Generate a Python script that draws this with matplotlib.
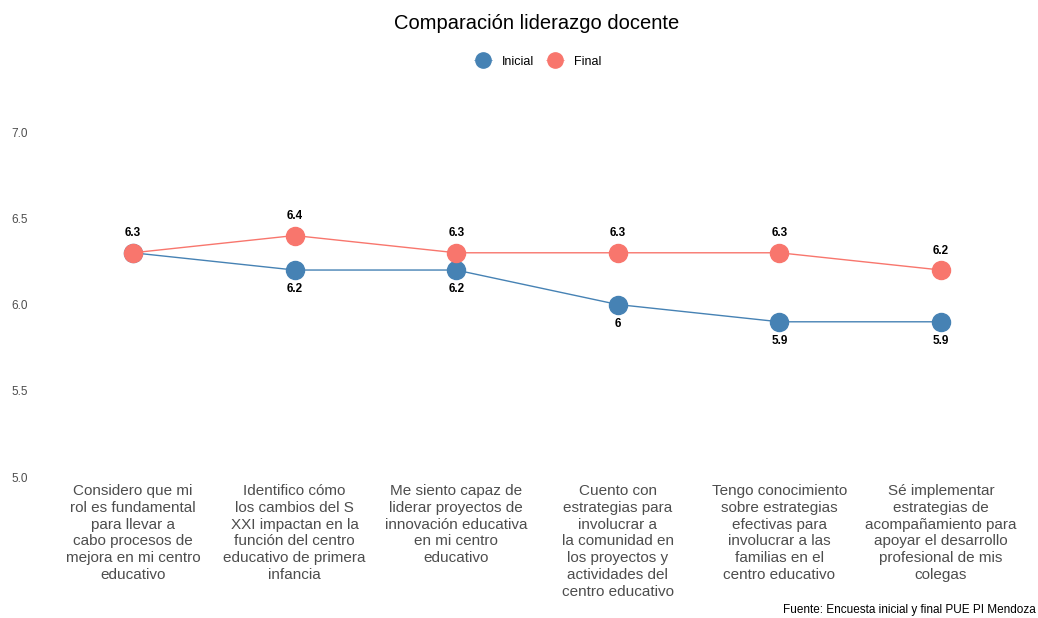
import matplotlib.pyplot as plt
from matplotlib.lines import Line2D

plt.rcParams['font.family'] = ['Liberation Sans', 'DejaVu Sans']

# ---- data ----
categorias = [
    'Considero que mi\nrol es fundamental\npara llevar a\ncabo procesos de\nmejora en mi centro\neducativo',
    'Identifico cómo\nlos cambios del S\nXXI impactan en la\nfunción del centro\neducativo de primera\ninfancia',
    'Me siento capaz de\nliderar proyectos de\ninnovación educativa\nen mi centro\neducativo',
    'Cuento con\nestrategias para\ninvolucrar a\nla comunidad en\nlos proyectos y\nactividades del\ncentro educativo',
    'Tengo conocimiento\nsobre estrategias\nefectivas para\ninvolucrar a las\nfamilias en el\ncentro educativo',
    'Sé implementar\nestrategias de\nacompañamiento para\napoyar el desarrollo\nprofesional de mis\ncolegas',
]
inicial = [6.3, 6.2, 6.2, 6.0, 5.9, 5.9]
final = [6.3, 6.4, 6.3, 6.3, 6.3, 6.2]
y_ticks = [5.0, 5.5, 6.0, 6.5, 7.0]

c_ini = '#4682B4'
c_fin = '#F8766D'

fig = plt.figure(figsize=(10.38, 6.18), dpi=100)
ax = fig.add_axes([36 / 1038, 1 - 480 / 618, 1 - 36 / 1038, (480 - 112) / 618])

x = list(range(len(categorias)))
ax.plot(x, inicial, '-o', color=c_ini, lw=1, ms=13, zorder=2)
ax.plot(x, final, '-o', color=c_fin, lw=1, ms=13, zorder=3)

def fmt(v):
    return f'{v:g}'

for i in x:
    ax.annotate(fmt(final[i]), (i, final[i]), xytext=(0, 14), textcoords='offset points',
                ha='center', va='center', fontsize=8.5, fontweight='bold', color='black')
    if inicial[i] < final[i]:
        ax.annotate(fmt(inicial[i]), (i, inicial[i]), xytext=(0, -14), textcoords='offset points',
                    ha='center', va='center', fontsize=8.5, fontweight='bold', color='black')

ax.set_xlim(-0.6, len(categorias) - 0.4)
ax.set_ylim(4.983, 7.116)
ax.set_yticks(y_ticks)
ax.set_yticklabels([f'{v:.1f}' for v in y_ticks])
ax.set_xticks(x)
ax.set_xticklabels(categorias, fontsize=11, color='#4D4D4D', linespacing=1.25)
ax.tick_params(axis='y', labelsize=8.5, labelcolor='#4D4D4D', length=0, pad=6)
ax.tick_params(axis='x', length=0, pad=3)
for s in ax.spines.values():
    s.set_visible(False)

fig.text(0.517, 0.962, 'Comparación liderazgo docente', ha='center', va='center', fontsize=14.5)

handles = [Line2D([0], [0], color=c_ini, lw=0.4, marker='o', ms=11, label='Inicial'),
           Line2D([0], [0], color=c_fin, lw=0.4, marker='o', ms=11, label='Final')]
fig.legend(handles=handles, loc='center', bbox_to_anchor=(0.518, 0.9), ncol=2, frameon=False,
           fontsize=9, handlelength=1.4, columnspacing=1.0, handletextpad=0.8)

fig.text(0.998, 0.004, 'Fuente: Encuesta inicial y final PUE PI Mendoza', ha='right', va='bottom',
         fontsize=8.5)

fig.savefig('out.png', dpi=100)
